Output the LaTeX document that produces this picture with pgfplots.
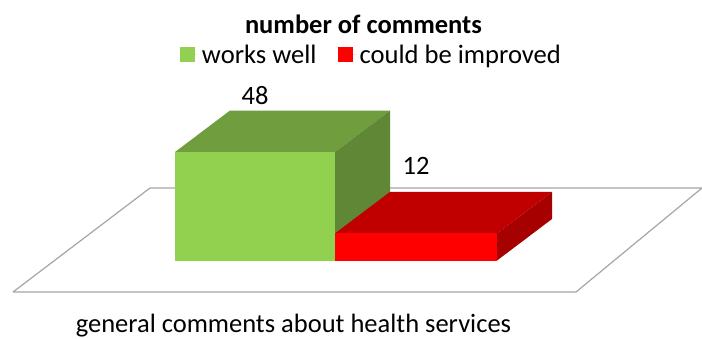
\documentclass[border=0pt]{standalone}
\usepackage{fontspec}
\setmainfont{Carlito}
\usepackage{pgfplots}
\pgfplotsset{compat=1.18}
\definecolor{frontgreen}{HTML}{92D050}
\definecolor{topgreen}{HTML}{709E3E}
\definecolor{sidegreen}{HTML}{5F8735}
\definecolor{frontred}{HTML}{FF0000}
\definecolor{topred}{HTML}{C00000}
\definecolor{sidered}{HTML}{A60000}
\definecolor{floorline}{HTML}{A6A6A6}
\pgfplotsset{
  swatch/.style={legend image code/.code={
    \fill[##1, draw=none] (0pt,-7.5pt) rectangle (15pt,7.5pt);
    \path (0pt,0pt) -- (19pt,0pt);
  }},
  value label/.style={
    nodes near coords,
    /pgf/number format/assume math mode=true,
    every node near coord/.append style={anchor=center, yshift=#1, text=black, font=\fontsize{26.5pt}{30pt}\selectfont},
  },
}
\begin{document}
\begin{tikzpicture}
\useasboundingbox (0,0) rectangle (702pt,338pt);
\begin{axis}[
  scale only axis,
  width=702pt, height=338pt,
  xmin=0, xmax=702,
  ymin=-34.29, ymax=115.27,
  hide axis,
  clip=false,
  font=\fontsize{26.5pt}{30pt}\selectfont,
  legend style={
    at={(rel axis cs:0.2564,0.8373)}, anchor=west,
    draw=none, fill=none, inner sep=0pt, outer sep=0pt,
    legend columns=2,
    font=\fontsize{26.6pt}{30pt}\selectfont,
    /tikz/every even column/.append style={column sep=18pt},
    legend cell align=left,
    nodes={inner xsep=3pt, inner ysep=0pt},
  },
]
% floor of the chart
\addplot[draw=floorline, line width=1.2pt, fill=white, forget plot] coordinates {
  (13,-13.94) (150,32.08) (702,32.08) (576,-13.94) (13,-13.94)};

% green block: top and side faces, then the front face from its value
\addplot[fill=topgreen, draw=none, forget plot] coordinates {
  (175,48) (335,48) (390,66.36) (230,66.36) (175,48)};
\addplot[fill=sidegreen, draw=none, forget plot] coordinates {
  (335,0) (390,18.36) (390,66.36) (335,48) (335,0)};
\addplot[ybar, swatch, bar width=160pt, bar shift=0pt, fill=frontgreen, draw=none, value label=56pt]
  coordinates {(255,48)};
\addlegendentry{works well}

% red block
\addplot[fill=topred, draw=none, forget plot] coordinates {
  (335,12) (497,12) (552,30.36) (390,30.36) (335,12)};
\addplot[fill=sidered, draw=none, forget plot] coordinates {
  (497,0) (552,18.36) (552,30.36) (497,12) (497,0)};
\addplot[ybar, swatch, bar width=162pt, bar shift=0pt, fill=frontred, draw=none, value label=67.5pt]
  coordinates {(416,12)};
\addlegendentry{could be improved}

\node[font=\fontsize{26.5pt}{30pt}\selectfont\bfseries, anchor=center]
  at (rel axis cs:0.5178,0.929) {number of comments};
\node[anchor=center, inner sep=0pt] at (rel axis cs:0.418,0.036) {general comments about health services};
\end{axis}
\end{tikzpicture}
\end{document}
